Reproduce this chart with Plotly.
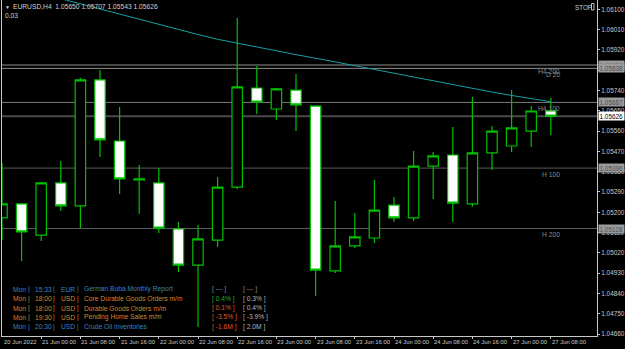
import plotly.graph_objects as go

# ---------------- data ----------------
candle_times = ["20 Jun 16:00", "20 Jun 20:00", "21 Jun 00:00", "21 Jun 04:00", "21 Jun 08:00",
                "21 Jun 12:00", "21 Jun 16:00", "21 Jun 20:00", "22 Jun 00:00", "22 Jun 04:00",
                "22 Jun 08:00", "22 Jun 12:00", "22 Jun 16:00", "22 Jun 20:00", "23 Jun 00:00",
                "23 Jun 04:00", "23 Jun 08:00", "23 Jun 12:00", "23 Jun 16:00", "23 Jun 20:00",
                "24 Jun 00:00", "24 Jun 04:00", "24 Jun 08:00", "24 Jun 12:00", "24 Jun 16:00",
                "24 Jun 20:00", "27 Jun 00:00", "27 Jun 04:00", "27 Jun 08:00"]
open_ = [1.05175, 1.05237, 1.05099, 1.05330, 1.05228, 1.05787, 1.05516, 1.05348, 1.05330, 1.05126,
         1.04966, 1.05077, 1.05312, 1.05751, 1.05658, 1.05742, 1.05671, 1.04940, 1.05051, 1.05086,
         1.05232, 1.05175, 1.05405, 1.05454, 1.05237, 1.05463, 1.05494, 1.05560, 1.05650]
high = [1.05419, 1.05240, 1.05334, 1.05427, 1.05796, 1.05831, 1.05667, 1.05410, 1.05396, 1.05157,
        1.05144, 1.05357, 1.06061, 1.05849, 1.05751, 1.05813, 1.05675, 1.05250, 1.05197, 1.05343,
        1.05268, 1.05472, 1.05467, 1.05578, 1.05711, 1.05583, 1.05742, 1.05671, 1.05707]
low = [1.05077, 1.04984, 1.05073, 1.05206, 1.05130, 1.05445, 1.05281, 1.05192, 1.05108, 1.04935,
       1.04691, 1.05046, 1.05303, 1.05636, 1.05609, 1.05560, 1.04829, 1.04931, 1.05042, 1.05064,
       1.05157, 1.05161, 1.05259, 1.05157, 1.05224, 1.05388, 1.05467, 1.05490, 1.05543]
close = [1.05237, 1.05113, 1.05330, 1.05228, 1.05787, 1.05521, 1.05348, 1.05344, 1.05130, 1.04966,
         1.05082, 1.05312, 1.05756, 1.05689, 1.05747, 1.05676, 1.04944, 1.05051, 1.05091, 1.05210,
         1.05175, 1.05405, 1.05450, 1.05241, 1.05463, 1.05560, 1.05574, 1.05649, 1.05626]
ma_values = [None, None, None, 1.06147, 1.06124, 1.06101, 1.06079, 1.06056, 1.06033, 1.06011,
             1.05988, 1.05967, 1.05951, 1.05933, 1.05916, 1.05899, 1.05884, 1.05867, 1.05850, 1.05833,
             1.05816, 1.05799, 1.05783, 1.05766, 1.05749, 1.05733, 1.05718, 1.05704, 1.05690]

x_tick_idx = [0, 2, 4, 6, 8, 10, 12, 14, 16, 18, 20, 22, 24, 26, 28]
x_tick_labels = ["20 Jun 2022", "21 Jun 00:00", "21 Jun 08:00", "21 Jun 16:00", "22 Jun 00:00",
                 "22 Jun 08:00", "22 Jun 16:00", "23 Jun 00:00", "23 Jun 08:00", "23 Jun 16:00",
                 "24 Jun 00:00", "24 Jun 08:00", "24 Jun 16:00", "27 Jun 00:00", "27 Jun 08:00"]
y_ticks = [1.06100, 1.06010, 1.05920, 1.05830, 1.05740, 1.05650, 1.05560, 1.05470, 1.05380,
           1.05290, 1.05200, 1.05110, 1.05020, 1.04930, 1.04840, 1.04750, 1.04660]

levels = [1.05853, 1.05838, 1.05687, 1.05626, 1.05396, 1.05128]
level_labels = ["H4 200", "D 20", "H4 100", "", "H 100", "H 200"]
current_price = 1.05626

ev_days = ["Mon", "Mon", "Mon", "Mon", "Mon"]
ev_times = ["15:33", "18:00", "18:00", "19:30", "20:30"]
ev_ccy = ["EUR", "USD", "USD", "USD", "USD"]
ev_names = ["German Buba Monthly Report", "Core Durable Goods Orders m/m", "Durable Goods Orders m/m",
            "Pending Home Sales m/m", "Crude Oil Inventories"]
ev_actual = ["[ --- ]", "[ 0.4% ]", "[ 0.1% ]", "[ -3.5% ]", "[ -1.6M ]"]
ev_forecast = ["[ --- ]", "[ 0.3% ]", "[ 0.4% ]", "[ -3.9% ]", "[ 2.0M ]"]

header_text = "EURUSD,H4  1.05650 1.05707 1.05543 1.05626"

# ---------------- geometry helpers ----------------
W, H = 625, 349
ML, MR, MT, MB = 2, 28, 0, 13
PW, PH = W - ML - MR, H - MT - MB
def px(xpix):
    return (xpix - ML) / PW
def py(ypix):
    return 1 - (ypix - MT) / PH

GREEN = "#00c000"
FONT = "Liberation Sans"

fig = go.Figure()
idx = list(range(len(open_)))

# level lines
level_styles = [("#8c8c8c", 1), ("#8c8c8c", 1), ("#7a7a7a", 1), ("#4a4a4a", 2), ("#5c5c5c", 1), ("#5c5c5c", 1)]
for lv, (col, wd) in zip(levels, level_styles):
    fig.add_shape(type="line", xref="paper", yref="y", x0=0, x1=1, y0=lv, y1=lv,
                  line=dict(color=col, width=wd), layer="below")

fig.add_trace(go.Scatter(x=idx, y=ma_values, mode="lines",
                         line=dict(color="#18a0a4", width=1), hoverinfo="skip"))

fig.add_trace(go.Candlestick(
    x=idx, open=open_, high=high, low=low, close=close,
    increasing=dict(fillcolor="#000000", line=dict(color=GREEN, width=1.2)),
    decreasing=dict(fillcolor="#ffffff", line=dict(color=GREEN, width=1.2)),
    whiskerwidth=0, text=candle_times))

ann = []
# level labels
for lv, lab in zip(levels, level_labels):
    if lab:
        ann.append(dict(xref="paper", yref="y", x=px(562), y=lv, xanchor="right", yanchor="top",
                        yshift=-0.5, text=lab, showarrow=False,
                        font=dict(family=FONT, size=6.7, color="#8a8a8a")))
# price boxes on the axis
for lv in levels:
    is_cur = abs(lv - current_price) < 1e-9
    ann.append(dict(xref="paper", yref="y", x=1, y=lv, xanchor="left", yanchor="middle", xshift=1,
                    text=f"{lv:.5f}", showarrow=False,
                    bgcolor="#ffffff" if is_cur else "#9a9a9a", borderpad=0.5,
                    font=dict(family=FONT, size=6.4, color="#000000" if is_cur else "#505050")))
# x labels
for i, lab in zip(x_tick_idx, x_tick_labels):
    ann.append(dict(xref="x", yref="paper", x=i, y=0, xanchor="left", yanchor="top", yshift=-0.5,
                    xshift=-1 if i > 0 else 0, text=lab, showarrow=False,
                    font=dict(family=FONT, size=5.9, color="#c8c8c8")))
# header
ann.append(dict(xref="paper", yref="paper", x=px(3), y=py(6.5), xanchor="left", yanchor="middle",
                text="▼", showarrow=False, font=dict(family=FONT, size=5, color="#d0d0d0")))
ann.append(dict(xref="paper", yref="paper", x=px(11), y=py(6.5), xanchor="left", yanchor="middle",
                text=header_text, showarrow=False, font=dict(family=FONT, size=6.7, color="#d0d0d0")))
ann.append(dict(xref="paper", yref="paper", x=px(3), y=py(15.5), xanchor="left", yanchor="middle",
                text="0.03", showarrow=False, font=dict(family=FONT, size=6.7, color="#d0d0d0")))
ann.append(dict(xref="paper", yref="paper", x=px(573), y=py(7), xanchor="left", yanchor="middle",
                text="STOP", showarrow=False, font=dict(family=FONT, size=6.3, color="#d0d0d0")))
fig.add_shape(type="rect", xref="paper", yref="paper", x0=px(591.5), x1=px(594), y0=py(10), y1=py(3.5),
              line=dict(color="#c0c0c0", width=1))

# events table
BLUE, ORANGE = "#3b84bf", "#d4862e"
row_cols = [BLUE, ORANGE, ORANGE, ORANGE, BLUE]
act_cols = ["#8a8a8a", "#2ea82e", "#e0552a", "#e0552a", "#e0552a"]
row_y = [289.3, 298.6, 308.0, 317.3, 326.7]
for r in range(len(ev_names)):
    yy = py(row_y[r])
    c = row_cols[r]
    for xp, t, anchor in [(11, ev_days[r], "left"), (28.5, "|", "center"), (33, ev_times[r], "left"),
                          (54, "|", "center"), (59, ev_ccy[r], "left"), (77.5, "|", "center"),
                          (82, ev_names[r], "left")]:
        ann.append(dict(xref="paper", yref="paper", x=px(xp), y=yy, xanchor=anchor, yanchor="middle",
                        text=t, showarrow=False, font=dict(family=FONT, size=6.7, color=c)))
    ann.append(dict(xref="paper", yref="paper", x=px(210), y=yy, xanchor="left", yanchor="middle",
                    text=ev_actual[r], showarrow=False, font=dict(family=FONT, size=6.7, color=act_cols[r])))
    ann.append(dict(xref="paper", yref="paper", x=px(241), y=yy, xanchor="left", yanchor="middle",
                    text=ev_forecast[r], showarrow=False,
                    font=dict(family=FONT, size=6.7, color="#8a8a8a" if r == 0 else "#b4b4b4")))

fig.update_layout(
    width=W, height=H, margin=dict(l=ML, r=MR, t=MT, b=MB),
    paper_bgcolor="#000000", plot_bgcolor="#000000", showlegend=False,
    boxgap=0.24, annotations=ann, hovermode=False,
    xaxis=dict(range=[0, PW / 19.6], showgrid=False, zeroline=False, showline=True,
               linecolor="#c8c8c8", linewidth=1, ticks="outside", ticklen=2, tickcolor="#c8c8c8",
               tickvals=x_tick_idx[1:], showticklabels=False, rangeslider=dict(visible=False)),
    yaxis=dict(side="right", range=[1.046515, 1.061412], tickvals=y_ticks,
               ticktext=[f"{v:.5f}" for v in y_ticks], showgrid=False, zeroline=False,
               showline=True, mirror=True, linecolor="#c8c8c8", linewidth=1,
               ticks="outside", ticklen=2, tickcolor="#c8c8c8",
               tickfont=dict(family=FONT, size=6.4, color="#c8c8c8")),
)

fig.write_html("out.html")
